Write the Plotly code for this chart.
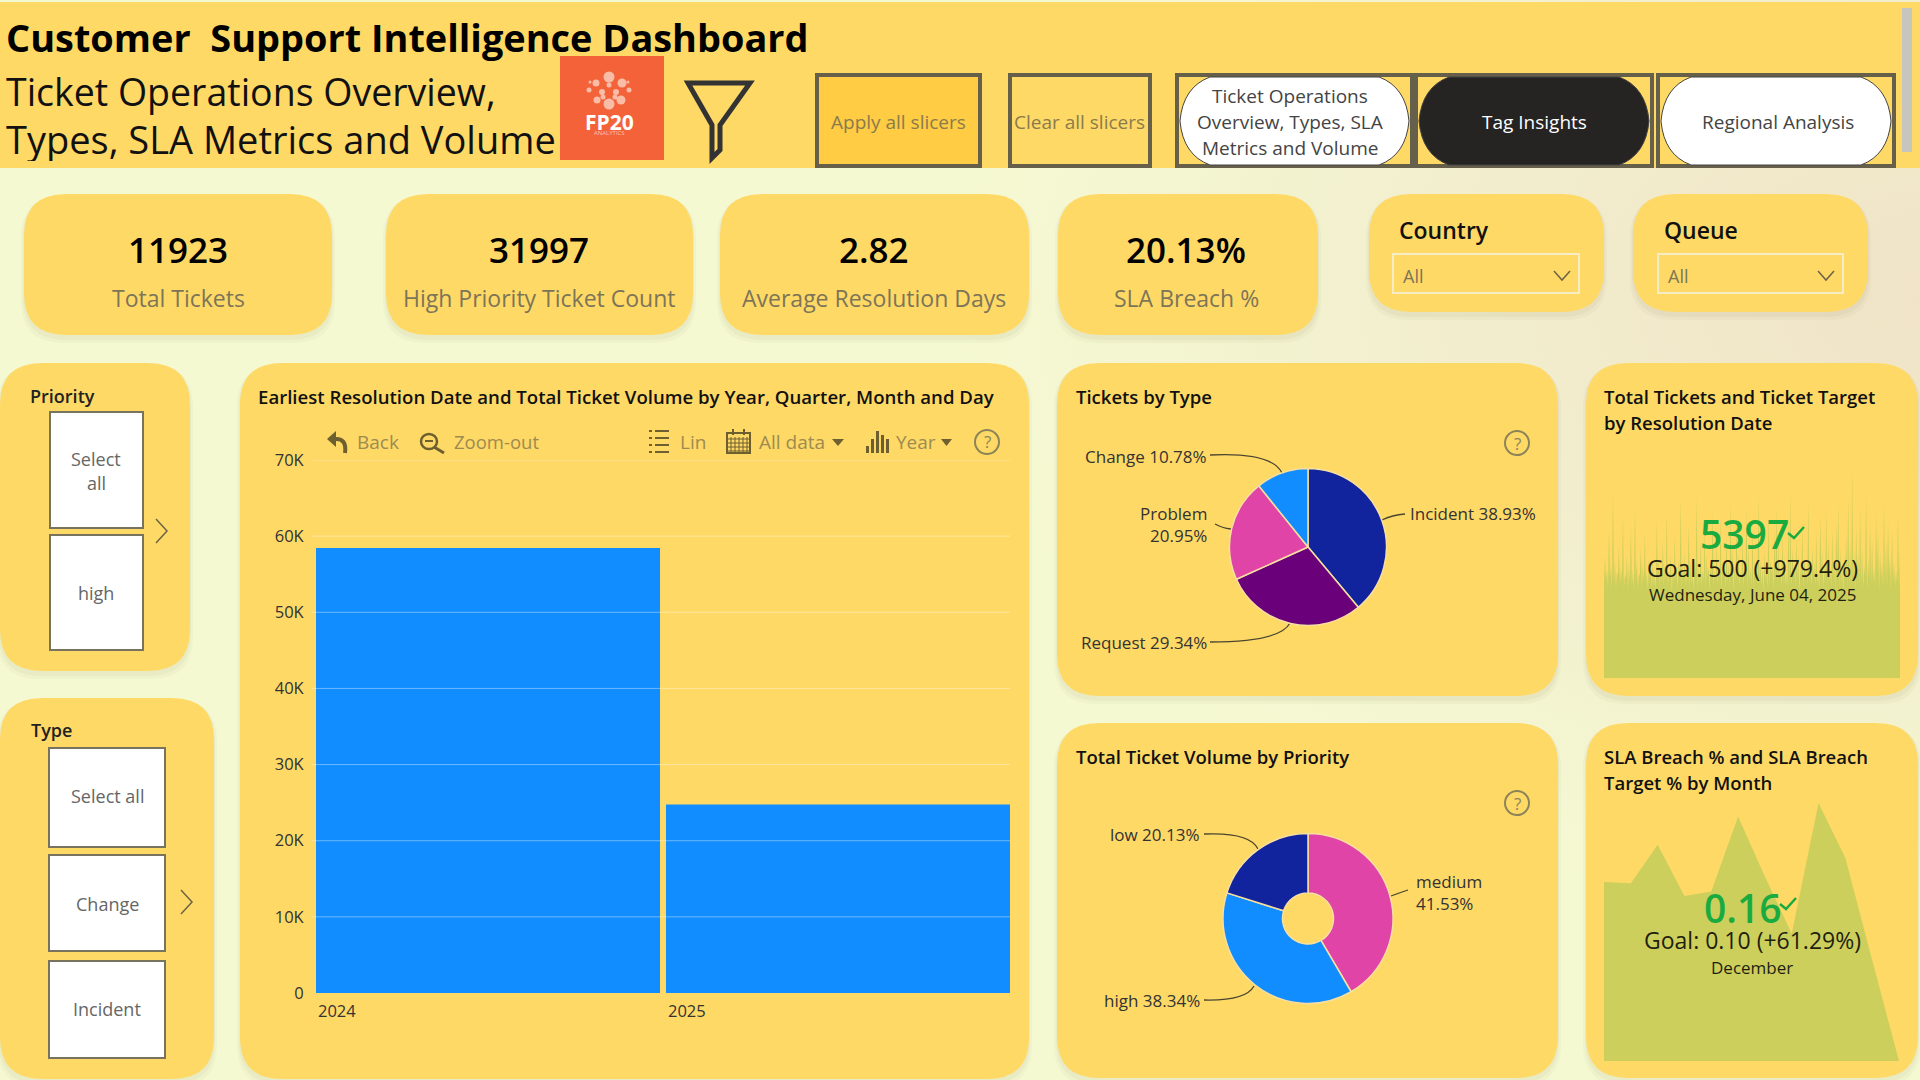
import plotly.graph_objects as go

W, H = 1920, 1080
BANNER = "#FFD966"
DARK = "#333333"
GREY = "#7C7558"
TOOL = "#9C8B52"
ICON = "#6E5F30"
GREEN = "#1AAB40"
AREA = "#CDCF5C"

# Data
years = [2024, 2025]
year_tickets = [58450, 24740]

type_labels = ["Incident", "Request", "Problem", "Change"]
type_share = [38.93, 29.34, 20.95, 10.78]
type_colors = ["#12239E", "#6B007B", "#E044A7", "#118DFF"]

priority_labels = ["medium", "high", "low"]
priority_share = [41.53, 38.34, 20.13]
priority_colors = ["#E044A7", "#118DFF", "#12239E"]

months = ["Jan", "Feb", "Mar", "Apr", "May", "Jun", "Jul", "Aug", "Sep", "Oct", "Nov", "Dec"]
sla_breach = [0.2224, 0.2220, 0.2354, 0.2176, 0.2191, 0.2453, 0.2244, 0.2045, 0.2500, 0.2308, 0.1952, 0.1600]

daily_tickets = [
    3900, 5200, 4100, 4600, 3800, 6300, 4200, 4800, 3700, 7900, 4000, 5000, 3800, 4500, 4300, 5600,
    3900, 4700, 4100, 6900, 3800, 4400, 4200, 5200, 3700, 4900, 4000, 6400, 3900, 4600, 3700, 7200,
    4100, 5000, 3800, 4300, 4400, 5500, 3800, 4800, 4100, 6200, 4000, 4500, 3700, 5100, 4200, 4700,
    3800, 5000, 3900, 4400, 3700, 6700, 4200, 5100, 3900, 4600, 4000, 5800, 3900, 4800, 4100, 7000,
    3800, 4500, 4300, 5300, 3600, 4700, 4000, 6000, 4100, 4600, 3800, 5100, 4300, 7600, 3800, 4900,
    4200, 5400, 3900, 4500, 4100, 6500, 3800, 5000, 4000, 4400, 3700, 5100, 4400, 7700, 3700, 4800,
    4000, 5900, 3800, 4600, 4100, 6300, 3800, 5200, 4300, 4700, 3700, 5000, 4200, 7100, 3900, 4500,
    4100, 5700, 3900, 4800, 4100, 6800, 3600, 5000, 4300, 4600, 3800, 6100, 4000, 4900, 3800, 7400,
    4200, 5500, 3700, 4700, 4100, 6600, 4000, 5300, 3900, 4500, 4200, 6000, 3800, 4900, 4400, 7200,
    3800, 5600, 4100, 4700, 3900, 6400, 3700, 5100, 4300, 4600, 3900, 7800, 4000, 5000, 3900, 4800,
    3600, 5400, 4200, 4500, 3800, 6900, 3900, 5000, 4500, 4700, 3700, 6300, 4100, 7300, 3900, 5700,
    4300, 4600, 3800, 6100, 4000, 5200, 3900, 4500, 3800, 6700, 4000, 7900, 3700, 5500, 4400, 4800,
    3900, 6000, 4100, 5300, 3600, 4700, 4200, 6500, 3800, 5100, 4300, 4600, 3900, 7500, 4000, 5000,
    3800, 5600, 4300, 4900, 3900, 6200, 4000, 4500, 3700, 6800, 4500, 5400, 3800, 4700, 4100, 7100,
    3900, 5800, 4100, 4600, 3900, 6300, 4200, 5000, 3700, 6600, 4400, 7400, 3800, 5500, 4000, 4800,
    3600, 5200, 4300, 6100, 3900, 7700, 4100, 5700, 3800, 8900, 4200, 5400, 3700, 6400, 4500, 5300,
    3900, 7200, 4000, 5600, 3800, 4800, 4300, 7800, 3700, 5100, 4100, 6500, 3900, 5900, 4000, 4700,
    3900, 7000, 4400, 6200, 3600, 5400, 4200, 4900, 3800, 7500, 4000, 5800, 3900, 6700, 4300, 5200,
    3700, 6300, 4100, 5000, 3800, 4600, 4000, 6900, 3800, 5397,
]
day_index = list(range(len(daily_tickets)))


def px(x):
    return x / W


def py(y):
    return 1 - y / H


def rounded(x0, y0, x1, y1, r):
    pts = [
        ("M", x0 + r, y0), ("L", x1 - r, y0), ("Q", x1, y0, x1, y0 + r), ("L", x1, y1 - r),
        ("Q", x1, y1, x1 - r, y1), ("L", x0 + r, y1), ("Q", x0, y1, x0, y1 - r), ("L", x0, y0 + r),
        ("Q", x0, y0, x0 + r, y0),
    ]
    out = ""
    for p in pts:
        coords = p[1:]
        out += p[0] + " ".join(
            f"{px(coords[i]):.5f},{py(coords[i + 1]):.5f}" for i in range(0, len(coords), 2)
        ) + " "
    return out + "Z"


def polyline(points, closed=False):
    s = "M" + " L".join(f"{px(x):.5f},{py(y):.5f}" for x, y in points)
    return s + (" Z" if closed else "")


def curve(x0, y0, cx, cy, x1, y1):
    return f"M{px(x0):.5f},{py(y0):.5f} Q{px(cx):.5f},{py(cy):.5f} {px(x1):.5f},{py(y1):.5f}"


def pill(x0, y0, x1, y1):
    ym = (y0 + y1) / 2
    return (
        f"M{px(x0 + 30):.5f},{py(y0):.5f} L{px(x1 - 30):.5f},{py(y0):.5f} "
        f"Q{px(x1 - 3):.5f},{py(y0 + 10):.5f} {px(x1):.5f},{py(ym):.5f} "
        f"Q{px(x1 - 3):.5f},{py(y1 - 10):.5f} {px(x1 - 30):.5f},{py(y1):.5f} "
        f"L{px(x0 + 30):.5f},{py(y1):.5f} "
        f"Q{px(x0 + 3):.5f},{py(y1 - 10):.5f} {px(x0):.5f},{py(ym):.5f} "
        f"Q{px(x0 + 3):.5f},{py(y0 + 10):.5f} {px(x0 + 30):.5f},{py(y0):.5f} Z"
    )


shapes = []
notes = []


def path(d, fill=None, line=None, width=0, layer="below"):
    shapes.append(dict(
        type="path", path=d, xref="paper", yref="paper", layer=layer,
        fillcolor=fill or "rgba(0,0,0,0)",
        line=dict(color=line or "rgba(0,0,0,0)", width=width),
    ))


def box(x0, y0, x1, y1, fill=None, line=None, width=0, layer="below"):
    shapes.append(dict(
        type="rect", xref="paper", yref="paper", x0=px(x0), x1=px(x1), y0=py(y0), y1=py(y1), layer=layer,
        fillcolor=fill or "rgba(0,0,0,0)",
        line=dict(color=line or "rgba(0,0,0,0)", width=width),
    ))


def text(x, y, s, size, color=DARK, anchor="left", weight=None):
    notes.append(dict(
        x=px(x), y=py(y), xref="paper", yref="paper", text=s, showarrow=False, xanchor=anchor, yanchor="middle",
        align=anchor, font=dict(size=size, color=color, weight=weight), borderpad=0, borderwidth=0,
    ))


def card(x0, y0, x1, y1, r=42):
    # soft shadow: two faint copies under the card
    path(rounded(x0 - 3, y0 + 2, x1 + 3, y1 + 8, r), fill="rgba(110,105,60,0.04)")
    path(rounded(x0 - 1, y0 + 1, x1 + 1, y1 + 5, r), fill="rgba(110,105,60,0.05)")
    path(rounded(x0, y0, x1, y1, r), fill=BANNER)


def connector(x0, y0, cx, cy, x1, y1):
    path(curve(x0, y0, cx, cy, x1, y1), line="#4A4530", width=1.3)


def help_icon(x, y, color="#8C8459"):
    shapes.append(dict(
        type="circle", xref="paper", yref="paper", x0=px(x - 12), x1=px(x + 12), y0=py(y - 12), y1=py(y + 12),
        line=dict(color=color, width=2), layer="below",
    ))
    text(x, y, "?", 17, color, "center")


# Header band
box(0, 2, W, 168, fill=BANNER)
box(1902, 8, 1912, 152, fill="#C6C6BE")
text(6, 37, "Customer\u00a0\u00a0Support Intelligence Dashboard", 37.9, "#000000", weight=700)
text(6, 92, "Ticket Operations Overview,", 37.5, "#111111")

box(560, 56, 664, 160, fill="#F4623A")
text(609, 122, "FP20", 21, "#FFFFFF", "center", 700)
text(609, 133, "ANALYTICS", 6, "rgba(255,255,255,0.6)", "center")
path(polyline([(688, 83), (750, 83), (720, 125), (720, 150), (712, 158), (712, 125)], closed=True), line=DARK, width=5)

box(817, 75, 980, 166, fill="#FFCC44", line="#665F4A", width=4)
text(898, 122, "Apply all slicers", 19, "#8A7B4C", "center")
box(1010, 75, 1150, 166, line="#665F4A", width=4)
text(1079, 122, "Clear all slicers", 19, "#8A7B4C", "center")

for x0, x1, fill in [(1177, 1412, "#FFFFFF"), (1416, 1652, "#252423"), (1658, 1894, "#FFFFFF")]:
    box(x0, 75, x1, 166, line="#665F4A", width=4)
    path(pill(x0 + 3, 77, x1 - 3, 165), fill=fill, line="#444444", width=1)
for y, line in [(96, "Ticket Operations"), (122, "Overview, Types, SLA"), (148, "Metrics and Volume")]:
    text(1290, y, line, 19, "#444444", "center")
text(1534, 122, "Tag Insights", 19, "#FFFFFF", "center")
text(1778, 122, "Regional Analysis", 19, "#444444", "center")

# KPI cards
for x0, x1, cx, value, label in [
    (24, 332, 178, "11923", "Total Tickets"),
    (386, 693, 539, "31997", "High Priority Ticket Count"),
    (720, 1029, 874, "2.82", "Average Resolution Days"),
    (1058, 1318, 1186, "20.13%", "SLA Breach %"),
]:
    card(x0, y0=194, x1=x1, y1=335)
    text(cx, 249, value, 35, "#000000", "center", 600)
    text(cx, 298, label, 23, GREY, "center")

# Dropdown slicers
for x0, x1, box_x0, box_x1, label in [
    (1369, 1604, 1393, 1579, "Country"),
    (1633, 1868, 1658, 1843, "Queue"),
]:
    card(x0, 194, x1, 312)
    text(box_x0 + 6, 230, label, 23, "#111111", weight=600)
    box(box_x0, 254, box_x1, 293, line="#F6EDC4", width=2)
    text(box_x0 + 10, 276, "All", 18, GREY)
    chev = box_x1 - 17
    path(polyline([(chev - 8, 271), (chev, 280), (chev + 8, 271)]), line="#6B6446", width=1.5)

# Priority slicer
card(0, 363, 190, 671)
text(30, 396, "Priority", 18, "#222222", weight=600)
box(50, 412, 143, 528, fill="#FFFFFF", line="#77735F", width=2)
text(96, 459, "Select", 18, "#666666", "center")
text(96, 483, "all", 18, "#666666", "center")
box(50, 535, 143, 650, fill="#FFFFFF", line="#77735F", width=2)
text(96, 593, "high", 18, "#666666", "center")
path(polyline([(156, 519), (167, 531), (156, 543)]), line="#6B6446", width=1.5)

# Type slicer
card(0, 698, 214, 1079)
text(31, 730, "Type", 18, "#222222", weight=600)
for y0, y1, cy, label in [(748, 847, 796, "Select all"), (855, 951, 904, "Change"), (961, 1058, 1009, "Incident")]:
    box(49, y0, 165, y1, fill="#FFFFFF", line="#77735F", width=2)
    text(107, cy, label, 18, "#666666", "center")
path(polyline([(181, 890), (192, 902), (181, 914)]), line="#6B6446", width=1.5)

# Main chart card and its toolbar
card(240, 363, 1029, 1079)
text(258, 396, "Earliest Resolution Date and Total Ticket Volume by Year, Quarter, Month and Day", 18.6, "#111111", weight=600)
text(357, 442, "Back", 19, TOOL)
text(454, 442, "Zoom-out", 18.5, TOOL)
text(680, 442, "Lin", 19, TOOL)
text(759, 442, "All data", 19, TOOL)
text(896, 442, "Year", 19, TOOL)
path(polyline([(327, 439), (336, 431), (336, 447)], closed=True), fill=ICON)
path(curve(335, 439, 347, 438, 345, 453), line=ICON, width=4)
shapes.append(dict(type="circle", xref="paper", yref="paper", x0=px(421), x1=px(437), y0=py(434), y1=py(449),
                   line=dict(color=ICON, width=2.5), layer="below"))
path(polyline([(434, 447), (444, 453)]), line=ICON, width=3)
path(polyline([(425, 441), (433, 441)]), line=ICON, width=2)
for ly in [431, 438, 445, 452]:
    path(polyline([(649, ly), (652, ly)]), line=ICON, width=2)
    path(polyline([(655, ly), (669, ly)]), line=ICON, width=2)
box(727, 433, 750, 453, line=ICON, width=2)
for cal_x in [731, 735, 739, 743, 747]:
    path(polyline([(cal_x, 437), (cal_x, 452)]), line=ICON, width=1)
for cal_y in [439, 443, 447, 451]:
    path(polyline([(728, cal_y), (749, cal_y)]), line=ICON, width=1)
for cal_x in [733, 744]:
    path(polyline([(cal_x, 429), (cal_x, 435)]), line=ICON, width=2)
for bx, by0 in [(866, 446), (871, 439), (876, 431), (881, 435), (886, 439)]:
    box(bx, by0, bx + 3, 453, fill=ICON)
path(polyline([(832, 439), (844, 439), (838, 446)], closed=True), fill=ICON)
path(polyline([(941, 439), (952, 439), (946.5, 446)], closed=True), fill=ICON)
help_icon(987, 442)

# Tickets by Type card
card(1057, 363, 1558, 696)
text(1076, 396, "Tickets by Type", 18.5, "#111111", weight=600)
help_icon(1517, 443)
text(1207, 456, "Change 10.78%", 17, DARK, "right")
connector(1210, 455, 1272, 452, 1282, 473)
text(1207, 513, "Problem", 17, DARK, "right")
text(1207, 535, "20.95%", 17, DARK, "right")
connector(1215, 524, 1222, 528, 1231, 529)
text(1207, 642, "Request 29.34%", 17, DARK, "right")
connector(1210, 642, 1280, 642, 1290, 623)
text(1410, 514, "Incident 38.93%", 17, DARK)
connector(1405, 514, 1392, 515, 1382, 520)

# Total Tickets KPI card
card(1586, 363, 1918, 696)
text(1604, 396, "Total Tickets and Ticket Target", 18.5, "#111111", weight=600)
text(1604, 423, "by Resolution Date", 18.5, "#111111", weight=600)
text(1744, 533, "5397", 39, GREEN, "center", 600)
path(polyline([(1788, 533), (1794, 538), (1804, 527)]), line=GREEN, width=2.5, layer="above")
text(1752, 568, "Goal: 500 (+979.4%)", 23, "#1F1F10", "center")
text(1752, 594, "Wednesday, June 04, 2025", 17, "#1F1F10", "center")

# Priority donut card
card(1057, 723, 1558, 1078)
text(1076, 756, "Total Ticket Volume by Priority", 18.5, "#111111", weight=600)
help_icon(1517, 803)
text(1200, 834, "low 20.13%", 17, DARK, "right")
connector(1204, 834, 1250, 832, 1258, 849)
text(1200, 1000, "high 38.34%", 17, DARK, "right")
connector(1204, 1000, 1246, 1001, 1254, 986)
text(1416, 881, "medium", 17, DARK)
text(1416, 903, "41.53%", 17, DARK)
connector(1408, 890, 1399, 893, 1391, 896)

# SLA KPI card
card(1586, 723, 1918, 1078)
text(1604, 756, "SLA Breach % and SLA Breach", 18.5, "#111111", weight=600)
text(1604, 782, "Target % by Month", 18.5, "#111111", weight=600)
text(1743, 907, "0.16", 39, GREEN, "center", 600)
path(polyline([(1780, 904), (1786, 909), (1796, 898)]), line=GREEN, width=2.5, layer="above")
text(1752, 940, "Goal: 0.10 (+61.29%)", 23, "#1F1F10", "center")
text(1752, 967, "December", 17, "#1F1F10", "center")

# Hide the descenders the banner cuts off on the subtitle's second line
box(0, 161, 556, 168, fill=BANNER, layer="above")

fig = go.Figure()

# Year bars
fig.add_trace(go.Bar(x=years, y=year_tickets, width=0.983, marker=dict(color="#118DFF", line_width=0), xaxis="x", yaxis="y"))
for year in years:
    notes.append(dict(
        x=year - 0.4915, xref="x", y=py(1010), yref="paper", text=str(year), showarrow=False, xanchor="left",
        yanchor="middle", font=dict(size=16.5, color=DARK),
    ))
for v in range(10000, 80000, 10000):
    shapes.append(dict(
        type="line", xref="x domain", yref="y", x0=-0.006, x1=1, y0=v, y1=v, layer="above",
        line=dict(color="rgba(255,255,255,0.38)", width=1),
    ))

# Pies
fig.add_trace(go.Pie(
    labels=type_labels, values=type_share, sort=False, direction="clockwise", rotation=0,
    marker=dict(colors=type_colors, line=dict(color="#F7DFA0", width=1.5)), textinfo="none",
    domain=dict(x=[px(1229.5), px(1386.5)], y=[py(625.5), py(468.5)]), showlegend=False,
))
fig.add_trace(go.Pie(
    labels=priority_labels, values=priority_share, sort=False, direction="clockwise", rotation=0, hole=0.3,
    marker=dict(colors=priority_colors, line=dict(color="#F7DFA0", width=1.5)), textinfo="none",
    domain=dict(x=[px(1223), px(1393)], y=[py(1004), py(833)]), showlegend=False,
))

# KPI background areas
fig.add_trace(go.Scatter(
    x=day_index, y=daily_tickets, mode="lines", fill="tozeroy", fillcolor=AREA, line=dict(width=0),
    xaxis="x2", yaxis="y2",
))
fig.add_trace(go.Scatter(
    x=months, y=sla_breach, mode="lines", fill="tozeroy", fillcolor=AREA, line=dict(width=0),
    xaxis="x3", yaxis="y3",
))

# Text and dots that sit on a plain pixel overlay
dot_x = [609, 596, 622, 602, 616, 609, 589, 629, 597, 621, 609, 603, 615, 590, 628]
dot_y = [77, 83, 83, 92, 92, 85, 90, 90, 100, 100, 104, 97, 97, 82, 82]
dot_size = [11, 7, 9, 6, 6, 5, 5, 5, 7, 9, 11, 5, 5, 3, 3]
fig.add_trace(go.Scatter(
    x=dot_x, y=dot_y, mode="markers", marker=dict(color="#FBE3D6", size=dot_size, line_width=0), xaxis="x4", yaxis="y4",
))
fig.add_trace(go.Scatter(
    x=[6], y=[144], mode="text", text=["Types, SLA Metrics and Volume"], textposition="middle right",
    textfont=dict(size=38, color="#111111"), xaxis="x4", yaxis="y4",
))

hidden = dict(visible=False, fixedrange=True, automargin=False)
fig.update_layout(
    width=W, height=H,
    margin=dict(l=0, r=0, t=0, b=0, autoexpand=False),
    paper_bgcolor="rgba(0,0,0,0)",
    plot_bgcolor="rgba(0,0,0,0)",
    font=dict(family="Open Sans", color=DARK),
    showlegend=False,
    hovermode=False,
    xaxis=dict(
        domain=[px(316), px(1010)], range=[2023.5085, 2025.4915], showgrid=False, zeroline=False,
        showticklabels=False, showline=False, fixedrange=True, automargin=False,
    ),
    yaxis=dict(
        domain=[py(993), py(460)], range=[0, 70000], tickvals=list(range(0, 80000, 10000)),
        ticktext=["0", "10K", "20K", "30K", "40K", "50K", "60K", "70K"], showgrid=False, zeroline=False,
        ticks="outside", ticklen=8, tickcolor="rgba(0,0,0,0)", tickfont=dict(size=16.5, color=DARK),
        fixedrange=True, automargin=False,
    ),
    xaxis2=dict(domain=[px(1604), px(1900)], range=[0, len(daily_tickets) - 1], anchor="y2", **hidden),
    yaxis2=dict(domain=[py(678), py(465)], range=[0, 9000], anchor="x2", **hidden),
    xaxis3=dict(domain=[px(1604), px(1899)], range=[0, 11], anchor="y3", **hidden),
    yaxis3=dict(domain=[py(1061), py(803)], range=[0.16, 0.25], anchor="x3", **hidden),
    xaxis4=dict(domain=[0, 1], range=[0, W], anchor="y4", **hidden),
    yaxis4=dict(domain=[0, 1], range=[H, 0], anchor="x4", **hidden),
    shapes=shapes,
    annotations=notes,
)

page_style = """
document.documentElement.style.overflow = 'hidden';
document.body.style.margin = '0';
document.body.style.background =
  'radial-gradient(ellipse 1000px 620px at 1960px 300px, #F0E2C6 0%, #F2EFCE 55%, #F5F9D2 100%)';
"""
fig.write_html("out.html", config={"displayModeBar": False}, post_script=page_style)
